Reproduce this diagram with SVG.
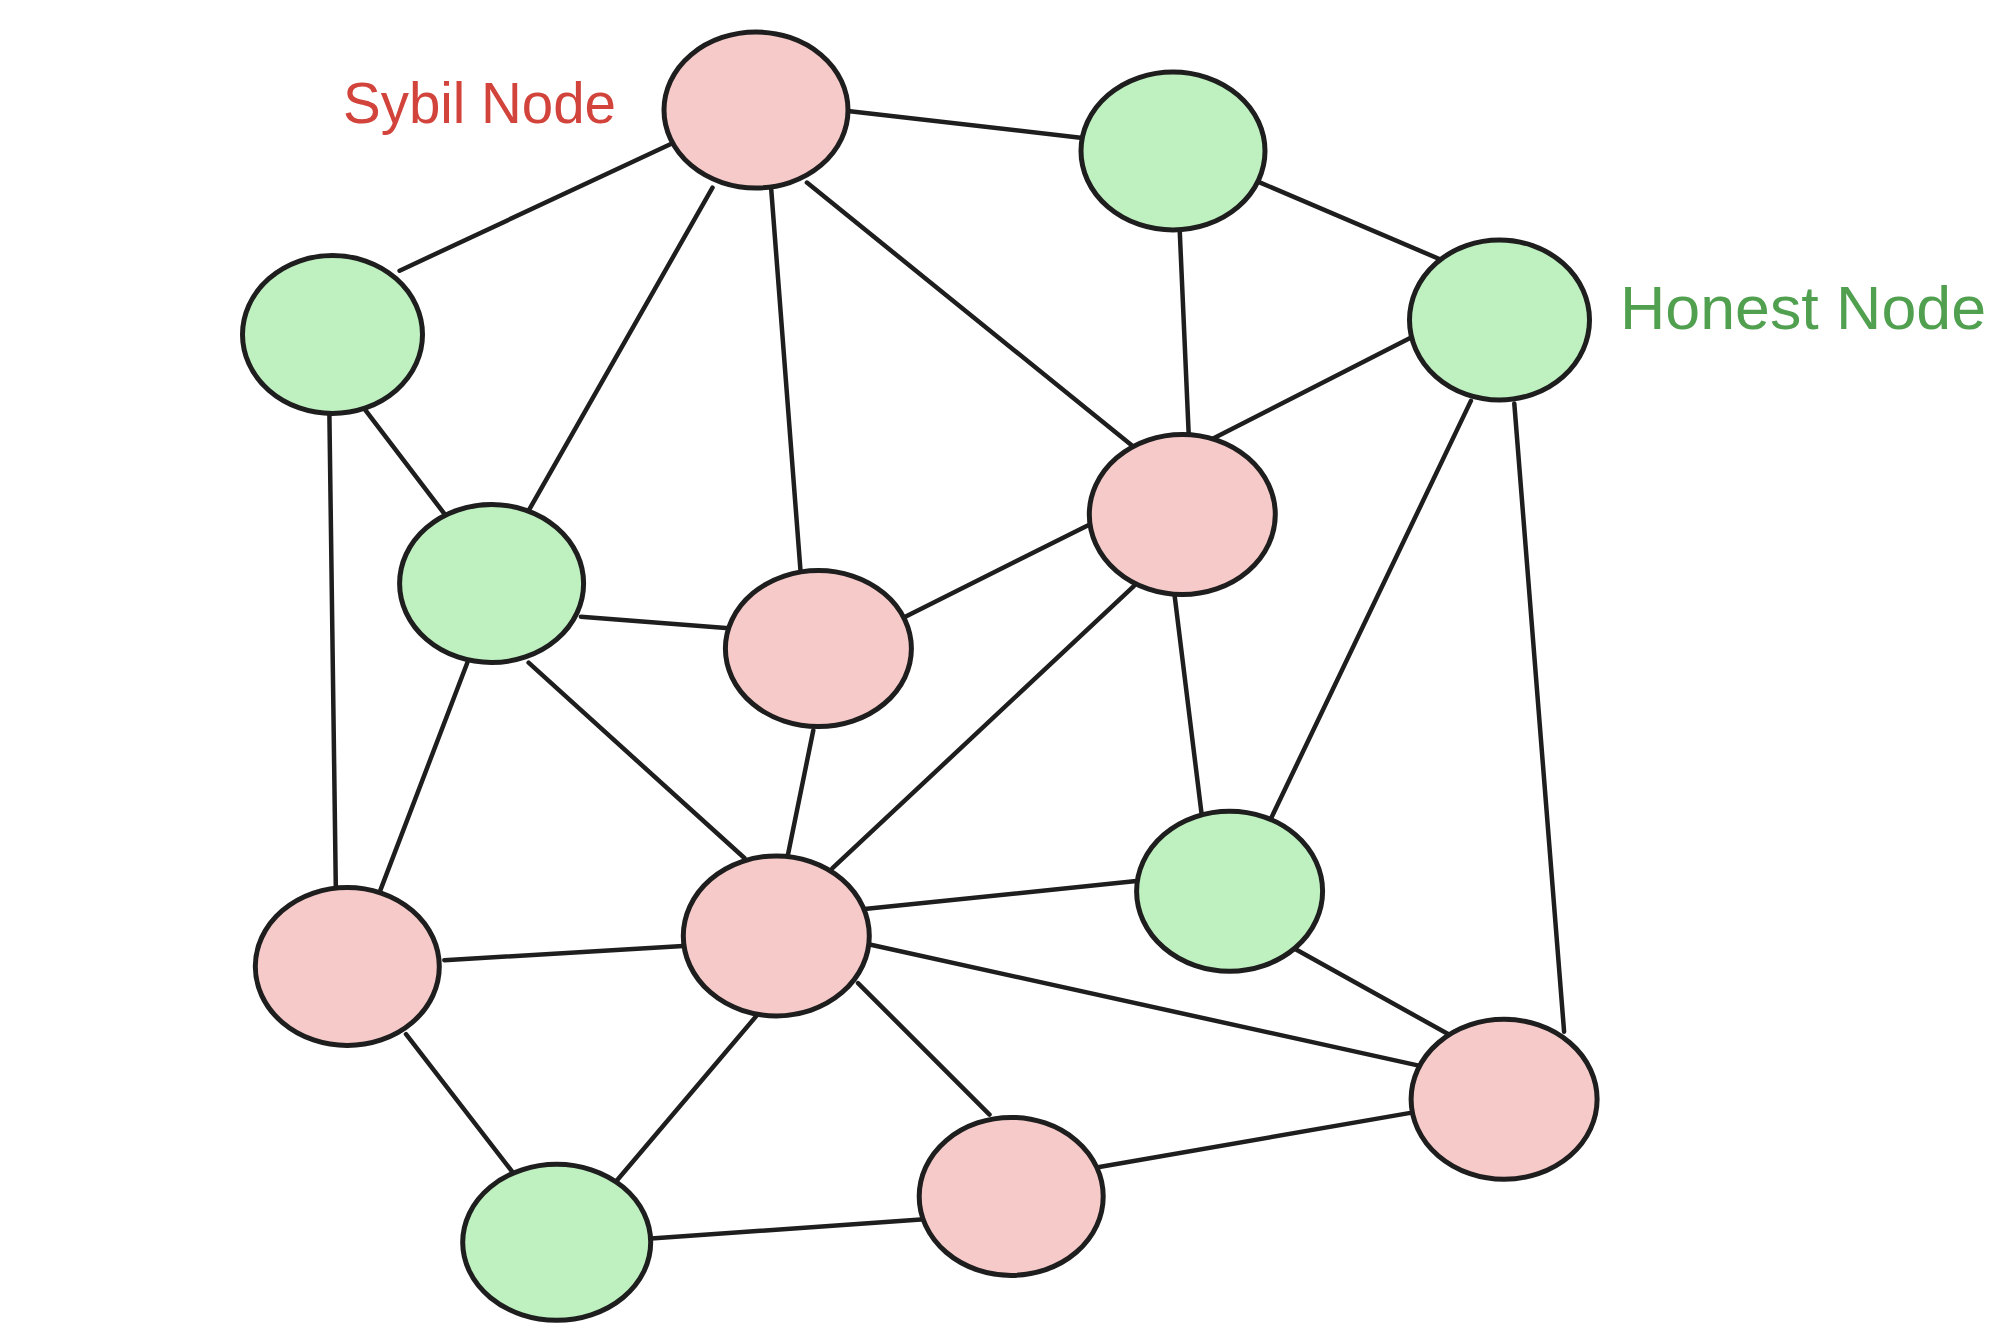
<svg xmlns="http://www.w3.org/2000/svg" width="2002" height="1338" viewBox="0 0 2002 1338">
<style>
.sy{fill:#f7caca;stroke:#1e1e1e;stroke-width:5}
.ho{fill:#bff0c0;stroke:#1e1e1e;stroke-width:5}
.e{stroke:#1e1e1e;stroke-width:4.5;stroke-linecap:round;fill:none}
.lbl{font-family:"Liberation Sans",Arial,sans-serif}
</style>
<rect width="2002" height="1338" fill="#ffffff"/>
<g id="connectors">
<line class="e" x1="847.8" y1="111.1" x2="1082.7" y2="137.9"/>
<line class="e" x1="670.3" y1="144.3" x2="399.6" y2="270.7"/>
<line class="e" x1="712.5" y1="187.7" x2="528.6" y2="510.7"/>
<line class="e" x1="771.2" y1="189" x2="800.6" y2="572"/>
<line class="e" x1="806.9" y1="182.6" x2="1133.8" y2="446.9"/>
<line class="e" x1="1260.2" y1="182.6" x2="1442.8" y2="260.5"/>
<line class="e" x1="1179.8" y1="232.4" x2="1188.7" y2="434.1"/>
<line class="e" x1="1412.1" y1="337.1" x2="1211.7" y2="439.2"/>
<line class="e" x1="1470.9" y1="400.9" x2="1270.4" y2="819.7"/>
<line class="e" x1="1514.3" y1="403.5" x2="1564.1" y2="1031.7"/>
<line class="e" x1="365.2" y1="409.9" x2="446.9" y2="517.1"/>
<line class="e" x1="329.4" y1="415" x2="335.8" y2="886.1"/>
<line class="e" x1="580.9" y1="616.7" x2="729.1" y2="628.2"/>
<line class="e" x1="467.3" y1="662.7" x2="380.5" y2="889.9"/>
<line class="e" x1="528.6" y1="662.7" x2="744.4" y2="858"/>
<line class="e" x1="905.3" y1="616.7" x2="1091.7" y2="523.5"/>
<line class="e" x1="813.3" y1="730.3" x2="787.8" y2="855.5"/>
<line class="e" x1="1133.8" y1="586.1" x2="832.5" y2="868.2"/>
<line class="e" x1="1174.7" y1="596.3" x2="1201.5" y2="813.3"/>
<line class="e" x1="864.4" y1="909.1" x2="1136.4" y2="881"/>
<line class="e" x1="444.3" y1="960.2" x2="683.1" y2="946.1"/>
<line class="e" x1="870.8" y1="944.8" x2="1421.1" y2="1066.1"/>
<line class="e" x1="757.1" y1="1015.1" x2="615.4" y2="1182.3"/>
<line class="e" x1="858" y1="983.1" x2="989.5" y2="1114.6"/>
<line class="e" x1="406" y1="1034.2" x2="514.5" y2="1174.7"/>
<line class="e" x1="651.2" y1="1238.5" x2="924.4" y2="1219.3"/>
<line class="e" x1="1099.3" y1="1167" x2="1414.7" y2="1112.1"/>
<line class="e" x1="1294.7" y1="948.7" x2="1453" y2="1036.8"/>
</g>
<g id="n1"><ellipse class="sy" cx="756" cy="110" rx="92" ry="78"/></g>
<g id="n2"><ellipse class="ho" cx="1173" cy="151" rx="92" ry="79"/></g>
<g id="n3"><ellipse class="ho" cx="332.5" cy="334.5" rx="90" ry="79"/></g>
<g id="n4"><ellipse class="ho" cx="1499.5" cy="320" rx="90" ry="80"/></g>
<g id="n5"><ellipse class="ho" cx="491.6" cy="583.5" rx="92" ry="79"/></g>
<g id="n6"><ellipse class="sy" cx="818.4" cy="648.6" rx="93" ry="78"/></g>
<g id="n7"><ellipse class="sy" cx="1182.3" cy="514.5" rx="93" ry="80"/></g>
<g id="n8"><ellipse class="sy" cx="347.3" cy="966.5" rx="92" ry="79"/></g>
<g id="n9"><ellipse class="sy" cx="776.3" cy="935.9" rx="93" ry="80"/></g>
<g id="n10"><ellipse class="ho" cx="1229.6" cy="891.2" rx="93" ry="80"/></g>
<g id="n11"><ellipse class="sy" cx="1504.1" cy="1099.3" rx="93" ry="80"/></g>
<g id="n12"><ellipse class="ho" cx="556.7" cy="1242.3" rx="94" ry="78"/></g>
<g id="n13"><ellipse class="sy" cx="1011.2" cy="1196.4" rx="92" ry="79"/></g>
<g id="label-sybil"><text class="lbl" x="343" y="123" font-size="58" fill="#d1433b" textLength="273" lengthAdjust="spacingAndGlyphs">Sybil Node</text></g>
<g id="label-honest"><text class="lbl" x="1620" y="329" font-size="62" fill="#50a050" textLength="366" lengthAdjust="spacingAndGlyphs">Honest Node</text></g>
</svg>
